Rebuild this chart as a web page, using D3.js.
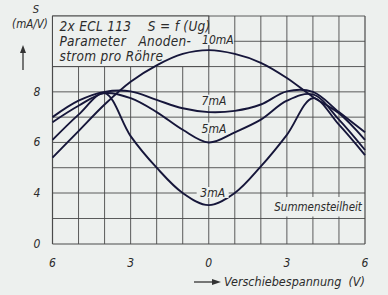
<!DOCTYPE html>
<html>
<head>
<meta charset="utf-8">
<script src="https://cdn.jsdelivr.net/npm/d3@7"></script>
<style>
  body { margin: 0; background: #edf0ee; }
  svg { display: block; }
  text { font-family: "DejaVu Sans", sans-serif; font-stretch: condensed; font-style: italic; fill: #2b2b2b; white-space: pre; }
</style>
</head>
<body>
<div id="chart"></div>
<script>
// Verschiebespannung (V), left side drawn as 6..0, right side 0..6
var voltages = [-6, -5, -4, -3, -2, -1, 0, 1, 2, 3, 4, 5, 6];

// Summensteilheit S (mA/V) per anode current
var s10mA = [5.4, 6.45, 7.5, 8.4, 9.05, 9.5, 9.65, 9.5, 9.15, 8.55, 7.8, 7.15, 6.1];
var s7mA  = [7.0, 7.65, 8.0, 8.02, 7.68, 7.35, 7.2, 7.25, 7.5, 8.02, 8.0, 7.2, 6.4];
var s5mA  = [6.8, 7.45, 7.95, 7.75, 7.2, 6.5, 6.0, 6.4, 6.9, 7.65, 7.9, 6.9, 5.7];
var s3mA  = [6.1, 7.1, 7.95, 6.25, 5.0, 4.0, 3.05, 4.0, 5.05, 6.3, 7.75, 6.7, 5.5];

var seriesNames = ['10mA', '7mA', '5mA', '3mA'];

var xTicks = [-6, -3, 0, 3, 6];
var yTicks = [0, 4, 6, 8];
var yGrid = [0, 2, 4, 5, 6, 7, 8, 9, 10, 11];

var props = { width: 388, height: 295 };
var ink = '#16163a';
var gridColor = '#4a4a4a';
var bg = '#edf0ee';

var svg = d3.select('#chart').append('svg')
            .attr('width', props.width)
            .attr('height', props.height);

var x = d3.scaleLinear().domain([-6, 6]).range([52.5, 365]);
// the paper uses a compressed lower part: 0..4 takes two rows only
var y = d3.scaleLinear().domain([0, 4, 11]).range([244, 193, 16]);

// grid
var grid = svg.append('g').attr('class', 'grid');
grid.selectAll('line.v').data(d3.range(-6, 7))
    .enter().append('line')
    .attr('class', 'v')
    .attr('x1', function(d) { return x(d); })
    .attr('x2', function(d) { return x(d); })
    .attr('y1', y(11))
    .attr('y2', y(0))
    .attr('stroke', gridColor)
    .attr('stroke-width', function(d) { return Math.abs(d) === 6 ? 1.2 : 0.9; });

grid.selectAll('line.h').data(yGrid)
    .enter().append('line')
    .attr('class', 'h')
    .attr('x1', x(-6))
    .attr('x2', x(6))
    .attr('y1', function(d) { return y(d); })
    .attr('y2', function(d) { return y(d); })
    .attr('stroke', gridColor)
    .attr('stroke-width', function(d) { return d === 0 ? 1.2 : 0.9; });

// title box in the upper left
svg.append('rect')
   .attr('x', x(-6))
   .attr('y', y(11))
   .attr('width', x(0) - x(-6))
   .attr('height', y(9) - y(11))
   .attr('fill', bg)
   .attr('stroke', gridColor)
   .attr('stroke-width', 1);

var titleLines = ['2x ECL 113    S = f (Ug)', 'Parameter   Anoden-', 'strom pro Röhre'];
svg.append('g').selectAll('text').data(titleLines)
   .enter().append('text')
   .attr('x', x(-6) + 7)
   .attr('y', function(d, i) { return 31 + i * 15; })
   .attr('font-size', 13.5)
   .attr('letter-spacing', 0.3)
   .text(function(d) { return d; });

// background for Summensteilheit label
svg.append('rect')
   .attr('x', x(2.2))
   .attr('y', y(4) + 4)
   .attr('width', x(6) - x(2.2) - 2)
   .attr('height', y(2) - y(4) - 6)
   .attr('fill', bg);

// curves
var line = d3.line()
             .x(function(d, i) { return x(voltages[i]); })
             .y(function(d) { return y(d); })
             .curve(d3.curveCatmullRom.alpha(0.5));

svg.append('g').selectAll('path')
   .data([s10mA, s7mA, s5mA, s3mA])
   .enter().append('path')
   .attr('d', function(d) { return line(d); })
   .attr('fill', 'none')
   .attr('stroke', ink)
   .attr('stroke-width', 1.9);

// curve labels
var labelPos = [[0.35, 10.05], [0.2, 7.65], [0.2, 6.55], [0.15, 4.0]];
var labels = svg.append('g');
labels.selectAll('rect').data(seriesNames)
      .enter().append('rect')
      .attr('x', function(d, i) { return x(labelPos[i][0]) - 16; })
      .attr('y', function(d, i) { return y(labelPos[i][1]) - 6; })
      .attr('width', 32)
      .attr('height', 11)
      .attr('fill', bg);
labels.selectAll('text').data(seriesNames)
      .enter().append('text')
      .attr('x', function(d, i) { return x(labelPos[i][0]); })
      .attr('y', function(d, i) { return y(labelPos[i][1]) + 4; })
      .attr('text-anchor', 'middle')
      .attr('font-size', 12)
      .text(function(d) { return d; });

svg.append('text')
   .attr('x', x(4.2))
   .attr('y', y(4) + 18)
   .attr('text-anchor', 'middle')
   .attr('font-size', 11.5)
   .text('Summensteilheit');

// tick labels
svg.append('g').selectAll('text').data(xTicks)
   .enter().append('text')
   .attr('x', function(d) { return x(d); })
   .attr('y', 267)
   .attr('text-anchor', 'middle')
   .attr('font-size', 12)
   .text(function(d) { return Math.abs(d); });

svg.append('g').selectAll('text').data(yTicks)
   .enter().append('text')
   .attr('x', 37)
   .attr('y', function(d) { return y(d) + 4; })
   .attr('text-anchor', 'middle')
   .attr('font-size', 12)
   .text(function(d) { return d; });

// axis titles
svg.append('text').attr('x', 36).attr('y', 13).attr('text-anchor', 'middle')
   .attr('font-size', 11).text('S');
svg.append('text').attr('x', 30).attr('y', 28).attr('text-anchor', 'middle')
   .attr('font-size', 11.5).text('(mA/V)');

svg.append('line')
   .attr('x1', 23).attr('x2', 23).attr('y1', 70).attr('y2', 50)
   .attr('stroke', '#333').attr('stroke-width', 1.3);
svg.append('path')
   .attr('d', 'M23,45 L20,53 L26,53 Z')
   .attr('fill', '#333');

svg.append('line')
   .attr('x1', 194).attr('x2', 214).attr('y1', 282).attr('y2', 282)
   .attr('stroke', '#333').attr('stroke-width', 1.3);
svg.append('path')
   .attr('d', 'M221,282 L212,279 L212,285 Z')
   .attr('fill', '#333');
svg.append('text').attr('x', 224).attr('y', 286)
   .attr('font-size', 12.5).text('Verschiebespannung  (V)');
</script>
</body>
</html>
